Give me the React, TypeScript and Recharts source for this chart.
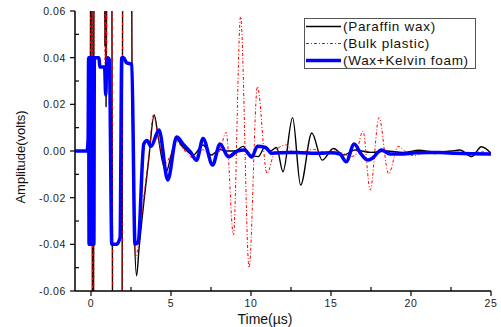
import { LineChart, Line, XAxis, YAxis, Legend } from 'recharts';

// Paraffin wax (black)
const waxTime = [-1, -0.3, -0.06, 0.03, 0.12, 0.22, 0.8, 0.86, 0.9, 0.94, 0.98, 1.06, 1.25, 1.4, 1.9, 2.02, 2.46, 2.56, 2.7, 2.85, 3.0, 3.3, 3.6, 3.95, 4.2, 4.45, 4.7, 5.0, 5.35, 5.7, 6.0, 6.4, 7.0, 7.5, 8.05, 8.5, 9.0, 9.5, 9.95, 10.45, 10.9, 11.2, 11.6, 12.0, 12.6, 13.1, 13.8, 14.45, 15.15, 15.8, 16.5, 17.5, 18.5, 19.5, 20.5, 21.5, 22.5, 23.05, 23.8, 24.4, 25];
const waxAmp = [0, 0, 0.004, 0.2, -0.2, 0.2, 0.2, 0.045, 0.066, 0.019, 0.07, 0.2, 0.2, -0.2, -0.2, 0.2, 0.2, 0.04, -0.03, -0.0535, -0.042, -0.022, -0.004, 0.0154, 0.006, -0.004, -0.009, -0.002, 0.005, 0.002, 0.0, -0.0017, 0.0026, -0.0017, 0.0006, 0.0, 0.0, 0.002, -0.0017, -0.0024, 0.002, 0.0, 0.0015, -0.0089, 0.0143, -0.0146, 0.0077, -0.0039, 0.0011, -0.0017, 0.0004, -0.0006, 0.0, -0.0006, 0.0003, -0.0004, 0.0, 0.0004, -0.0024, 0.0018, -0.001];

// Bulk plastic (red, dash-dot)
const plasticTime = [-1, -0.3, -0.05, 0.04, 0.13, 0.24, 0.82, 0.88, 0.92, 0.96, 1.02, 1.27, 1.42, 1.9, 2.03, 2.47, 2.56, 2.68, 2.8, 2.95, 3.3, 3.6, 3.9, 4.2, 4.45, 4.7, 5.0, 5.35, 5.8, 6.4, 7.0, 7.5, 8.0, 8.45, 8.9, 9.35, 9.88, 10.4, 11.0, 11.5, 12.2, 12.7, 13.2, 13.9, 14.5, 15.2, 15.7, 16.2, 16.5, 17.0, 17.45, 18.0, 18.6, 19.2, 19.6, 20.2, 20.8, 21.5, 22.5, 23.5, 24.5, 25];
const plasticAmp = [0, 0, 0.003, 0.2, -0.2, 0.2, 0.2, 0.03, 0.07, 0.025, 0.2, 0.2, -0.2, -0.2, 0.2, 0.2, 0.035, -0.03, -0.046, -0.04, -0.02, -0.003, 0.0155, 0.006, -0.002, -0.005, -0.001, 0.004, 0.0005, -0.003, 0.0005, -0.002, -0.0005, 0.008, -0.036, 0.0576, -0.05, 0.0276, -0.0096, 0.0, 0.0026, -0.001, -0.0005, 0.0007, -0.0004, 0.0, -0.0008, -0.0024, -0.002, 0.0085, -0.0167, 0.0143, -0.0098, 0.002, 0.0, -0.0021, -0.0005, -0.0012, -0.0004, -0.0008, -0.0004, -0.001];

// Wax + Kelvin foam (blue, thick)
const foamTime = [-1, -0.25, -0.18, -0.15, -0.12, -0.09, -0.06, -0.03, 0, 0.03, 0.06, 0.09, 0.12, 0.15, 0.18, 0.21, 0.5, 0.55, 0.85, 0.92, 0.98, 1.05, 1.15, 1.3, 1.6, 1.82, 1.92, 2.05, 2.2, 2.55, 2.75, 2.95, 3.3, 3.5, 3.75, 4.25, 4.8, 5.35, 5.8, 6.2, 6.6, 7.0, 7.6, 8.06, 8.6, 9.15, 9.6, 10.05, 10.4, 10.9, 11.3, 12.4, 13.1, 14.3, 15.0, 15.55, 15.95, 16.45, 16.85, 17.3, 17.6, 18.15, 18.7, 19.3, 20.3, 21.1, 21.8, 22.8, 23.8, 25];
const foamAmp = [0, 0, 0.005, 0.04, -0.04, 0.04, -0.04, 0.04, -0.04, 0.04, -0.04, 0.04, -0.04, 0.04, -0.04, 0.04, 0.04, 0.036, 0.036, 0.024, 0.036, 0.04, 0.039, -0.04, -0.04, -0.037, 0.04, 0.04, 0.038, 0.037, -0.04, -0.039, 0.003, 0.0045, 0.002, 0.009, -0.0124, 0.006, 0.0026, -0.0003, -0.004, 0.0054, -0.006, 0.003, -0.0025, 0.0, 0.0004, -0.0026, 0.002, 0.0015, -0.001, -0.0006, -0.0007, -0.001, -0.0008, -0.0013, -0.0046, 0.003, -0.001, -0.0039, -0.003, 0.0004, -0.0013, -0.0013, -0.0008, -0.0006, -0.0006, -0.001, -0.0012, -0.0013];

const xTicks = [0, 2.5, 5, 7.5, 10, 12.5, 15, 17.5, 20, 22.5, 25];
const yTicks = [-0.06, -0.05, -0.04, -0.03, -0.02, -0.01, 0, 0.01, 0.02, 0.03, 0.04, 0.05, 0.06];

const toPoints = (t: number[], v: number[]) => t.map((x, i) => ({ t: x, v: v[i] }));

const FONT = '"Liberation Sans", Arial, sans-serif';

const XTick = (props: any) => {
  const { x, y, payload } = props;
  const major = payload.value % 5 === 0;
  return (
    <g>
      <line x1={x} x2={x} y1={y} y2={major ? y + 5 : y - 4} stroke="#000" strokeWidth={1.2} />
      {major && (
        <text x={x} y={y + 16} textAnchor="middle" fontSize={10.5} letterSpacing={0.6} fill="#222" fontFamily={FONT}>
          {payload.value}
        </text>
      )}
    </g>
  );
};

const YTick = (props: any) => {
  const { x, y, payload } = props;
  const major = Math.round(payload.value * 100) % 2 === 0;
  return (
    <g>
      <line x1={x} x2={major ? x - 5 : x + 4} y1={y} y2={y} stroke="#000" strokeWidth={1.2} />
      {major && (
        <text x={x - 9} y={y + 4} textAnchor="end" fontSize={10.5} letterSpacing={0.6} fill="#222" fontFamily={FONT}>
          {payload.value.toFixed(2)}
        </text>
      )}
    </g>
  );
};

const legendItems = [
  { name: '(Paraffin wax)', color: '#000', width: 1.4, dash: undefined },
  { name: '(Bulk plastic)', color: '#ff0000', width: 1, dash: '3 2 1 2' },
  { name: '(Wax+Kelvin foam)', color: '#0000ff', width: 3.5, dash: undefined },
];

const LegendBox = () => (
  <svg width={172} height={51}>
    <rect x={0.5} y={0.5} width={171} height={50} fill="#fff" stroke="#555" />
    {legendItems.map((it, i) => (
      <g key={it.name}>
        <line x1={2} x2={37} y1={8.5 + i * 17} y2={8.5 + i * 17} stroke={it.color} strokeWidth={it.width} strokeDasharray={it.dash} />
        <text x={39} y={13 + i * 17} fontSize={13.5} letterSpacing={0.7} fill="#111" fontFamily={FONT}>
          {it.name}
        </text>
      </g>
    ))}
  </svg>
);

export default function App() {
  return (
    <div style={{ position: 'absolute', left: 0, top: 0, width: 501, height: 327, background: '#fff' }}>
      <LineChart width={501} height={327} margin={{ top: 11, right: 10, left: 0, bottom: 0 }}>
        <XAxis
          dataKey="t"
          type="number"
          domain={[-1, 25]}
          ticks={xTicks}
          interval={0}
          allowDataOverflow
          height={36}
          tickSize={0}
          tickMargin={0}
          tickLine={false}
          tick={<XTick />}
          axisLine={{ stroke: '#000', strokeWidth: 1.5 }}
          label={{
            content: () => (
              <text x={265} y={324} textAnchor="middle" fontSize={14} fill="#111" fontFamily={FONT}>
                Time(µs)
              </text>
            ),
          }}
        />
        <XAxis xAxisId="top" orientation="top" type="number" domain={[-1, 25]} height={0} tick={false} tickLine={false} axisLine={{ stroke: '#000', strokeWidth: 1.5 }} />
        <YAxis
          type="number"
          domain={[-0.06, 0.06]}
          ticks={yTicks}
          interval={0}
          allowDataOverflow
          width={75}
          tickSize={0}
          tickMargin={0}
          tickLine={false}
          tick={<YTick />}
          axisLine={{ stroke: '#000', strokeWidth: 1.5 }}
          label={{
            content: () => (
              <text x={25} y={157} transform="rotate(-90 25 157)" textAnchor="middle" fontSize={13} fill="#111" fontFamily={FONT}>
                Amplitude(volts)
              </text>
            ),
          }}
        />
        <YAxis yAxisId="right" orientation="right" type="number" domain={[-0.06, 0.06]} width={0} tick={false} tickLine={false} axisLine={{ stroke: '#000', strokeWidth: 1.5 }} />
        <Legend
          layout="vertical"
          align="center"
          verticalAlign="middle"
          wrapperStyle={{ top: 18, left: 304, width: 172, height: 51 }}
          content={<LegendBox />}
        />
        <Line data={toPoints(waxTime, waxAmp)} dataKey="v" name="(Paraffin wax)" type="monotone" stroke="#000" strokeWidth={1.4} dot={false} activeDot={false} isAnimationActive={false} />
        <Line data={toPoints(plasticTime, plasticAmp)} dataKey="v" name="(Bulk plastic)" type="monotone" stroke="#ff0000" strokeWidth={1} strokeDasharray="3 2 1 2" dot={false} activeDot={false} isAnimationActive={false} />
        <Line data={toPoints(foamTime, foamAmp)} dataKey="v" name="(Wax+Kelvin foam)" type="monotone" stroke="#0000ff" strokeWidth={3.5} dot={false} activeDot={false} isAnimationActive={false} />
      </LineChart>
    </div>
  );
}
